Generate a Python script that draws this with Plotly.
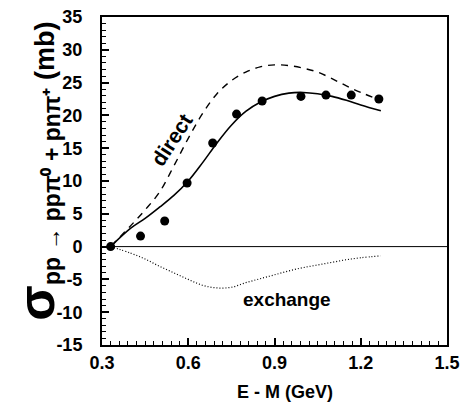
import plotly.graph_objects as go

# Data
data_x = [0.33, 0.434, 0.518, 0.596, 0.685, 0.768, 0.857, 0.992, 1.079, 1.167, 1.263]
data_y = [0.0, 1.6, 3.9, 9.7, 15.8, 20.2, 22.2, 22.9, 23.1, 23.1, 22.5]

curve_x = [0.33, 0.40, 0.45, 0.50, 0.55, 0.60, 0.65, 0.70, 0.75, 0.80, 0.85, 0.90,
           0.95, 1.00, 1.05, 1.10, 1.15, 1.20, 1.27]
total_y = [0.0, 2.8, 4.3, 6.0, 7.8, 10.0, 12.8, 15.8, 18.5, 20.6, 22.0, 22.9,
           23.4, 23.5, 23.3, 22.9, 22.3, 21.6, 20.7]
direct_y = [0.0, 3.2, 5.6, 8.3, 12.3, 16.5, 20.3, 23.3, 25.3, 26.6, 27.4, 27.7,
            27.6, 27.2, 26.6, 25.6, 24.5, 23.5, 22.3]
exchange_y = [0.0, -1.0, -1.9, -3.0, -4.0, -5.0, -5.9, -6.3, -6.2, -5.5, -4.9, -4.3,
              -3.7, -3.2, -2.8, -2.4, -2.0, -1.7, -1.4]

x_ticks = [0.3, 0.6, 0.9, 1.2, 1.5]
y_ticks = [-15, -10, -5, 0, 5, 10, 15, 20, 25, 30, 35]

FONT = "Liberation Sans"
L, R, T, B = 102, 18, 7, 74
W, H = 467, 419
pw, ph = W - L - R, H - T - B


def px_to_paper(px, py):
    return (px - L) / pw, (H - B - py) / ph


fig = go.Figure()
fig.add_trace(go.Scatter(x=[0.3, 1.5], y=[0, 0], mode="lines",
                         line=dict(color="black", width=1), hoverinfo="skip"))
fig.add_trace(go.Scatter(x=curve_x, y=direct_y, mode="lines", line_shape="spline",
                         line=dict(color="black", width=1.4, dash="7px,6px")))
fig.add_trace(go.Scatter(x=curve_x, y=exchange_y, mode="lines", line_shape="spline",
                         line=dict(color="black", width=1.2, dash="1px,2px")))
fig.add_trace(go.Scatter(x=curve_x, y=total_y, mode="lines", line_shape="spline",
                         line=dict(color="black", width=1.6)))
fig.add_trace(go.Scatter(x=data_x, y=data_y, mode="markers",
                         marker=dict(color="black", size=9)))

axis_common = dict(
    showgrid=False, zeroline=False, showline=True, linecolor="black", linewidth=2,
    mirror=True, ticks="inside", tickcolor="black", tickwidth=1.5, ticklen=7,
    ticklabeloverflow="allow",
    tickfont=dict(family=FONT, size=18, color="black", weight="bold"),
)
fig.update_xaxes(range=[0.3, 1.5], tickvals=x_ticks, ticktext=[f"{v:.1f}" for v in x_ticks],
                 minor=dict(dtick=0.03, tick0=0.3, ticks="inside", ticklen=4, tickcolor="black", tickwidth=1),
                 ticklabelstandoff=0, **axis_common)
fig.update_yaxes(range=[-15, 35], tickvals=y_ticks, ticktext=[str(v) for v in y_ticks],
                 minor=dict(dtick=1, tick0=0, ticks="inside", ticklen=4, tickcolor="black", tickwidth=1),
                 ticklabelstandoff=14, **axis_common)

fig.add_annotation(x=0.543, y=16.3, xref="x", yref="y", text="direct", showarrow=False,
                   textangle=-57, font=dict(family=FONT, size=21, color="black", weight="bold"))
fig.add_annotation(x=0.942, y=-8.0, xref="x", yref="y", text="exchange", showarrow=False,
                   font=dict(family=FONT, size=19, color="black", weight="bold"))

tx, ty = px_to_paper(286, 393)
fig.add_annotation(x=tx, y=ty, xref="paper", yref="paper", xanchor="center", yanchor="middle",
                   text="E - M (GeV)", showarrow=False,
                   font=dict(family=FONT, size=18, color="black", weight="bold"))
yx, yy = px_to_paper(36, 166)
fig.add_annotation(
    x=yx, y=yy, xref="paper", yref="paper", xanchor="center", yanchor="middle",
    showarrow=False, textangle=-90,
    text=("<span style='font-size:52px'>σ</span>"
          "<sub><span style='font-size:23px'>pp → ppπ⁰ + pnπ⁺</span></sub> (mb)"),
    font=dict(family=FONT, size=27, color="black", weight="bold"))

fig.update_layout(width=W, height=H, margin=dict(l=L, r=R, t=T, b=B),
                  paper_bgcolor="white", plot_bgcolor="white", showlegend=False)
fig.write_html("out.html")
